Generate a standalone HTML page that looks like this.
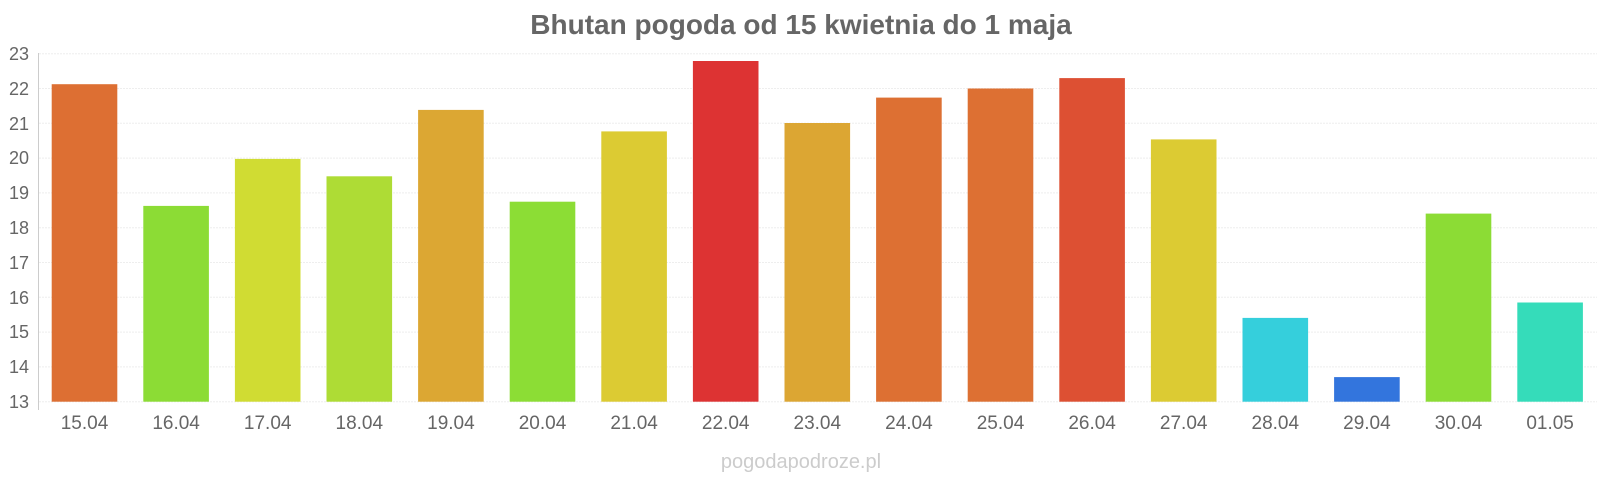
<!DOCTYPE html>
<html><head><meta charset="utf-8"><style>
html,body{margin:0;padding:0;background:#fff;}
svg{display:block;font-family:"Liberation Sans",Arial,sans-serif;}
</style></head><body>
<svg width="1600" height="480" viewBox="0 0 1600 480" xmlns="http://www.w3.org/2000/svg">
<text x="801" y="34" text-anchor="middle" font-size="28" font-weight="bold" fill="#666">Bhutan pogoda od 15 kwietnia do 1 maja</text>
<g stroke="#eee" stroke-width="1" stroke-dasharray="2,1">
<line x1="39" x2="1597" y1="53.7" y2="53.7"/>
<line x1="39" x2="1597" y1="88.5" y2="88.5"/>
<line x1="39" x2="1597" y1="123.3" y2="123.3"/>
<line x1="39" x2="1597" y1="158.1" y2="158.1"/>
<line x1="39" x2="1597" y1="192.9" y2="192.9"/>
<line x1="39" x2="1597" y1="227.7" y2="227.7"/>
<line x1="39" x2="1597" y1="262.5" y2="262.5"/>
<line x1="39" x2="1597" y1="297.3" y2="297.3"/>
<line x1="39" x2="1597" y1="332.1" y2="332.1"/>
<line x1="39" x2="1597" y1="366.9" y2="366.9"/>
<line x1="39" x2="1597" y1="401.7" y2="401.7"/>
</g>
<line x1="38.5" x2="38.5" y1="53" y2="410" stroke="#ccc" stroke-width="1"/>
<g font-size="18" fill="#666" text-anchor="end">
<text x="29" y="60">23</text><text x="29" y="95">22</text><text x="29" y="130">21</text><text x="29" y="164">20</text><text x="29" y="199">19</text><text x="29" y="234">18</text><text x="29" y="269">17</text><text x="29" y="304">16</text><text x="29" y="338">15</text><text x="29" y="373">14</text><text x="29" y="408">13</text>
</g>
<g>
<rect x="51.7" y="84.2" width="65.6" height="317.5" fill="#dd6f33"/>
<rect x="143.3" y="205.9" width="65.6" height="195.8" fill="#8cdc35"/>
<rect x="234.9" y="158.9" width="65.6" height="242.8" fill="#d0dc33"/>
<rect x="326.5" y="176.3" width="65.6" height="225.4" fill="#aedc35"/>
<rect x="418.1" y="109.9" width="65.6" height="291.8" fill="#dca733"/>
<rect x="509.7" y="201.7" width="65.6" height="200.0" fill="#8cdd35"/>
<rect x="601.3" y="131.4" width="65.6" height="270.3" fill="#dccb33"/>
<rect x="692.9" y="61.0" width="65.6" height="340.7" fill="#dd3333"/>
<rect x="784.5" y="123.0" width="65.6" height="278.7" fill="#dca633"/>
<rect x="876.1" y="97.6" width="65.6" height="304.1" fill="#dd7033"/>
<rect x="967.7" y="88.5" width="65.6" height="313.2" fill="#dd7033"/>
<rect x="1059.3" y="78.1" width="65.6" height="323.6" fill="#dd5033"/>
<rect x="1150.9" y="139.4" width="65.6" height="262.3" fill="#dccb33"/>
<rect x="1242.5" y="317.9" width="65.6" height="83.8" fill="#35cfdc"/>
<rect x="1334.1" y="377.1" width="65.6" height="24.6" fill="#3375dd"/>
<rect x="1425.7" y="213.6" width="65.6" height="188.1" fill="#8cdc35"/>
<rect x="1517.3" y="302.5" width="65.6" height="99.2" fill="#35dcba"/>
</g>
<g font-size="19" fill="#666" text-anchor="middle">
<text x="84.5" y="429">15.04</text><text x="176.1" y="429">16.04</text><text x="267.7" y="429">17.04</text><text x="359.3" y="429">18.04</text><text x="450.9" y="429">19.04</text><text x="542.5" y="429">20.04</text><text x="634.1" y="429">21.04</text><text x="725.7" y="429">22.04</text><text x="817.3" y="429">23.04</text><text x="908.9" y="429">24.04</text><text x="1000.5" y="429">25.04</text><text x="1092.1" y="429">26.04</text><text x="1183.7" y="429">27.04</text><text x="1275.3" y="429">28.04</text><text x="1366.9" y="429">29.04</text><text x="1458.5" y="429">30.04</text><text x="1550.1" y="429">01.05</text>
</g>
<text x="801" y="468" text-anchor="middle" font-size="20" fill="#ccc">pogodapodroze.pl</text>
</svg>
</body></html>
